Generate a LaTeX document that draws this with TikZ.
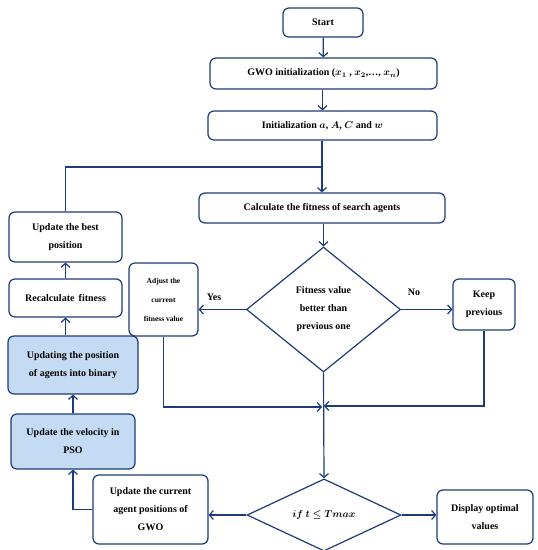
\documentclass[tikz,border=0pt]{standalone}
\usepackage{fontspec}
\setmainfont{Liberation Serif}
\usepackage{amsmath,bm}
\usetikzlibrary{arrows.meta,shapes.geometric}
\definecolor{navy}{HTML}{1F3A78}
\definecolor{lblue}{HTML}{C5DBF3}
\begin{document}
\begin{tikzpicture}[x=1pt,y=-1pt,
  box/.style={draw=navy, line width=1.2pt, rounded corners=6pt, fill=white,
    font=\bfseries\fontsize{10}{18}\selectfont, align=center, inner sep=0pt},
  bluebox/.style={box, fill=lblue},
  dia/.style={draw=navy, line width=1.2pt, diamond, inner sep=0pt,
    font=\bfseries\fontsize{10}{18}\selectfont, align=center},
  arr/.style={draw=navy, line width=1.2pt, -{Straight Barb[length=4pt,width=9pt]}},
  ln/.style={draw=navy, line width=1.2pt},
  lab/.style={font=\bfseries\fontsize{10}{12}\selectfont, inner sep=0pt}]
\useasboundingbox (0,0) rectangle (538,550);
\node[box, minimum width=80pt, minimum height=29pt] (start) at (323,22.5) {Start};
\node[box, minimum width=227pt, minimum height=31pt] (gwo) at (323.5,73.5)
  {GWO initialization ($\bm{x_1}$ , $\bm{x_2}$,…, $\bm{x_n}$)};
\node[box, minimum width=229pt, minimum height=29pt] (init) at (322.5,125.5)
  {Initialization $\bm{a}$, $\bm{A}$, $\bm{C}$ and $\bm{w}$};
\node[box, minimum width=246pt, minimum height=30pt] (calc) at (322,208)
  {Calculate the fitness of search agents};
\node[dia, minimum width=154pt, minimum height=125pt] (d1) at (323.5,309.5)
  {Fitness value\\better than\\previous one};
\node[box, minimum width=69pt, minimum height=73pt,
  font=\bfseries\fontsize{7.5}{19}\selectfont] (adj) at (163.5,299.5)
  {Adjust the\\current\\fitness value};
\node[box, minimum width=62pt, minimum height=51pt] (keep) at (484,304.5)
  {Keep\\previous};
\node[dia, minimum width=154pt, minimum height=48pt] (d2) at (324,515)
  {$\bm{if\ t \leq Tmax}$};
\node[box, minimum width=96pt, minimum height=54pt] (disp) at (485,517)
  {Display optimal\\values};
\node[box, minimum width=115pt, minimum height=69pt] (upd) at (150.5,509.5)
  {Update the current\\agent positions of\\GWO};
\node[bluebox, minimum width=124pt, minimum height=55pt] (vel) at (73,441.5)
  {Update the velocity in\\PSO};
\node[bluebox, minimum width=130pt, minimum height=58pt] (pos) at (73,365)
  {Updating the position\\of agents into binary};
\node[box, minimum width=113pt, minimum height=38pt] (recalc) at (65.5,298)
  {Recalculate\, fitness};
\node[box, minimum width=113pt, minimum height=50pt] (best) at (65.5,237)
  {Update the best\\position};
\node[lab] (yes) at (214,297) {Yes};
\node[lab] (no) at (414,292) {No};
\coordinate (join) at (322,167);
\coordinate (m1) at (322,407);
\coordinate (m2) at (324,406);
\draw[arr] (start) -- (gwo);
\draw[arr] (gwo.south -| init.north) -- (init);
\draw[arr] (init.south -| calc.north) -- (calc);
\draw[ln] (best.north) |- (join);
\draw[arr] (calc.south -| d1.north) -- (d1.north);
\draw[arr] (d1.west) -- (d1.west -| adj.east);
\draw[arr] (d1.east) -- (d1.east -| keep.west);
\draw[arr] (adj.south) |- (m1);
\draw[arr] (keep.south) |- (m2);
\draw[arr] (d1.south) -- (d2.north);
\draw[arr] (d2.east) -- (d2.east -| disp.west);
\draw[arr] (d2.west) -- (d2.west -| upd.east);
\draw[arr] (upd.west) -| (vel.south);
\draw[arr] (vel.north) -- (pos.south);
\draw[arr] (pos.north -| recalc.south) -- (recalc.south);
\draw[arr] (recalc) -- (best);
\end{tikzpicture}
\end{document}
